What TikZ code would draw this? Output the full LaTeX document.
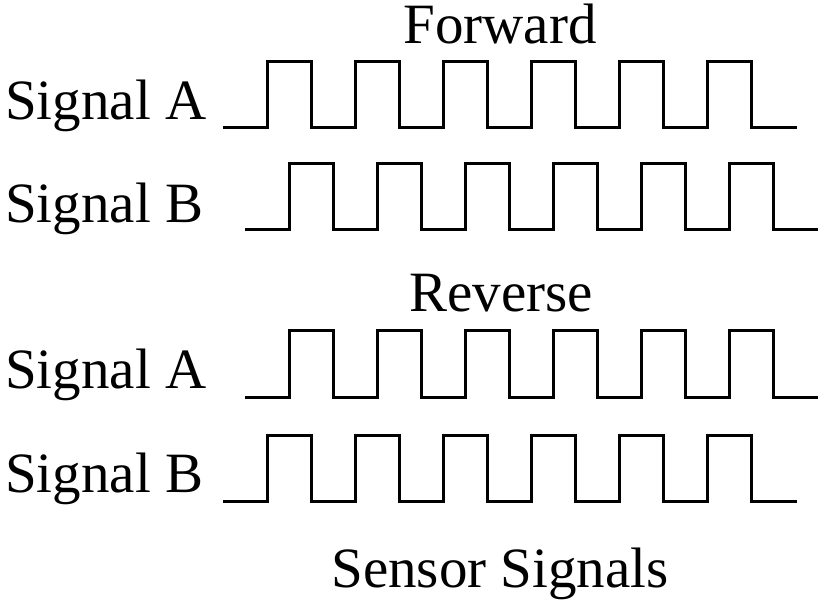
\documentclass[tikz,border=0pt]{standalone}
\usepackage{fontspec}
\setmainfont{Liberation Serif}
\usetikzlibrary{positioning}

\tikzset{
  lbl/.style={inner sep=0pt, text height=0.7em, text depth=0.2em, font=\fontsize{57}{60}\selectfont},
  wave/.style={line width=3pt, line join=miter}
}

% pulse train: start x, low y, first rise x, end x
\newcommand{\pulsetrain}[4]{%
  \draw[wave] (#1,#2) \foreach \k in {0,...,5}{ -- ({#3+88*\k},#2) -- ++(0,-66) -- ++(44,0) -- ++(0,66)} -- (#4,#2);
}

\begin{document}
\begin{tikzpicture}[x=1pt,y=-1pt]
        \useasboundingbox (0,0) rectangle (824,609);
        % titles
        \node[lbl, anchor=base] (fwd) at (500,44) {Forward};
        \node[lbl, anchor=base] (rev) at (501,312) {Reverse};
        \node[lbl, anchor=base] (caption) at (500,587) {Sensor Signals};
        % row labels
        \node[lbl, anchor=base west] (sigAf) at (5,120) {Signal A};
        \node[lbl, anchor=base west] (sigBf) at (5,223) {Signal B};
        \node[lbl, anchor=base west] (sigAr) at (5,388) {Signal A};
        \node[lbl, anchor=base west] (sigBr) at (5,492) {Signal B};
        % waveforms
        \pulsetrain{223}{128}{267}{797}
        \pulsetrain{245}{230}{289}{818}
        \pulsetrain{245}{397}{289}{818}
        \pulsetrain{223}{501}{267}{797}
    \end{tikzpicture}
\end{document}
